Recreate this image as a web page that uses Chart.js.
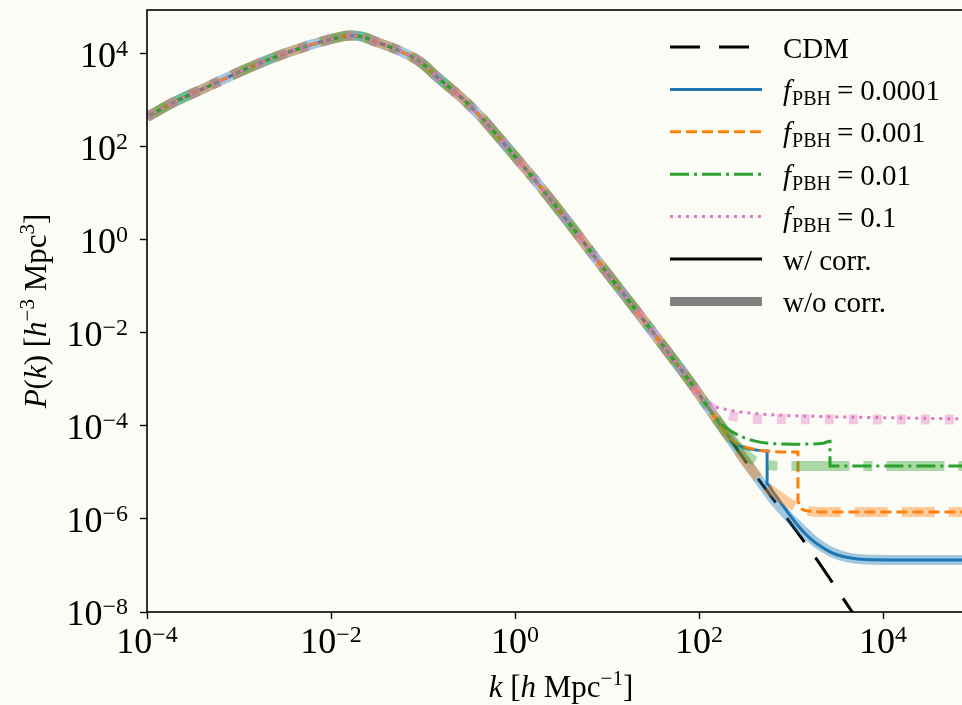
<!DOCTYPE html>
<html>
<head>
<meta charset="utf-8">
<script src="https://cdn.jsdelivr.net/npm/chart.js@4.4.1/dist/chart.umd.min.js"></script>
<style>
  html, body { margin: 0; padding: 0; background: #fcfcf7; overflow: hidden; }
  canvas { display: block; }
</style>
</head>
<body>
<canvas id="pk" width="990" height="705"></canvas>
<script>
// CDM power spectrum (k in h/Mpc, P in (Mpc/h)^3)
const cdmK = [1e-4, 2e-4, 4.5e-4, 1e-3, 2.3e-3, 5.5e-3, 1.26e-2, 1.65e-2, 2.3e-2, 2.9e-2, 5.6e-2, 9.3e-2,
              0.151, 0.272, 0.447, 0.69, 1.12, 1.74, 3.67, 8.3, 19.1, 44.7, 87, 126, 200, 316, 550,
              1000, 1700, 3470, 5620];
const cdmP = [442, 933, 1950, 4070, 8130, 14800, 23200, 24800, 22900, 19000, 11600, 6760,
              2880, 1070, 400, 148, 47.9, 17.0, 2.63, 0.316, 0.038, 4.17e-3, 7.1e-4, 2.5e-4, 6.8e-5, 1.82e-5, 4.0e-6,
              7.9e-7, 1.86e-7, 2.34e-8, 5.6e-9];

// where each f_PBH curve leaves CDM (w = with correction, wo = without)
const f4wK = [251, 316, 398, 550, 550, 631, 794, 1000, 1260, 1580, 2000, 2510, 3160, 4470, 6310, 15800, 1e5];
const f4wP = [4.17e-5, 3.39e-5, 3.09e-5, 2.88e-5, 5.62e-6, 3.98e-6, 2.09e-6, 1.12e-6, 6.3e-7, 3.98e-7, 2.75e-7,
              2.09e-7, 1.70e-7, 1.45e-7, 1.35e-7, 1.32e-7, 1.32e-7];
const f4woK = [708, 891, 1120, 1410, 1780, 2240, 2820, 3980, 6310, 15800, 1e5];
const f4woP = [2.09e-6, 1.26e-6, 7.94e-7, 5.13e-7, 3.39e-7, 2.45e-7, 1.91e-7, 1.51e-7, 1.35e-7, 1.32e-7, 1.32e-7];

const f3wK = [251, 316, 398, 631, 1190, 1190, 1260, 1580, 2240, 1e5];
const f3wP = [4.37e-5, 3.55e-5, 3.16e-5, 2.82e-5, 2.75e-5, 2.4e-6, 1.74e-6, 1.48e-6, 1.41e-6, 1.41e-6];
const f3woK = [398, 562, 708, 891, 1120, 1410, 2000, 1e5];
const f3woP = [1.0e-5, 4.68e-6, 3.31e-6, 2.40e-6, 1.82e-6, 1.55e-6, 1.41e-6, 1.41e-6];

const f2wK = [158, 200, 282, 398, 631, 1260, 2240, 2655, 2655, 1e5];
const f2wP = [1.38e-4, 8.91e-5, 6.03e-5, 4.79e-5, 4.17e-5, 4.07e-5, 4.27e-5, 4.68e-5, 1.38e-5, 1.38e-5];
const f2woK = [158, 200, 282, 355, 447, 631, 1000, 1e5];
const f2woP = [1.32e-4, 7.08e-5, 3.16e-5, 2.09e-5, 1.62e-5, 1.41e-5, 1.38e-5, 1.38e-5];

const f1wK = [107, 132, 182, 282, 631, 1580, 10000, 1e5];
const f1wP = [3.98e-4, 2.82e-4, 2.34e-4, 2.0e-4, 1.74e-4, 1.62e-4, 1.51e-4, 1.41e-4];
const f1woK = [107, 132, 166, 224, 316, 631, 1e5];
const f1woP = [3.8e-4, 2.63e-4, 2.0e-4, 1.66e-4, 1.48e-4, 1.41e-4, 1.38e-4];

const fLabels = ['0.0001', '0.001', '0.01', '0.1'];
const xTicks = [1e-4, 1e-2, 1, 1e2, 1e4];
const xTickExp = ['\u22124', '\u22122', '0', '2', '4'];
const yTicks = [1e-8, 1e-6, 1e-4, 1e-2, 1, 1e2, 1e4];
const yTickExp = ['\u22128', '\u22126', '\u22124', '\u22122', '0', '2', '4'];

const SERIF = '"Liberation Serif", "Times New Roman", serif';
const colors = ['#1f77b4', '#ff7f0e', '#2ca02c', '#e377c2'];
const pale = ['rgba(31,119,180,0.4)', 'rgba(255,127,14,0.4)', 'rgba(44,160,44,0.4)', 'rgba(227,119,194,0.4)'];
const thinDash = [[], [11, 5], [19, 5, 3, 5], [3, 5]];
const thickDash = [[], [33, 14], [58, 14, 9, 14], [9, 15]];
const cdmDash = [30, 19];

// CDM points below the tail start, then the tail itself
function withTail(tk, tp) {
    const pts = [];
    cdmK.forEach((k, i) => { if (k < tk[0]) pts.push({ x: k, y: cdmP[i] }); });
    tk.forEach((k, i) => pts.push({ x: k, y: tp[i] }));
    return pts;
}

function line(pts, color, width, dash) {
    return {
        data: pts, borderColor: color, borderWidth: width, borderDash: dash,
        pointRadius: 0, fill: false, cubicInterpolationMode: 'monotone', clip: 0
    };
}

const tails = [
    [f4wK, f4wP, f4woK, f4woP],
    [f3wK, f3wP, f3woK, f3woP],
    [f2wK, f2wP, f2woK, f2woP],
    [f1wK, f1wP, f1woK, f1woP]
];

// Chart.js paints dataset 0 last, so list top layer first
const datasets = [];
for (let i = 3; i >= 0; i--) {
    const t = tails[i];
    datasets.push(line(withTail(t[2], t[3]), pale[i], 10, thickDash[i]));
    datasets.push(line(withTail(t[0], t[1]), colors[i], 3, thinDash[i]));
}
datasets.push(line(cdmK.map((k, i) => ({ x: k, y: cdmP[i] })), '#000', 3, cdmDash));

function drawRuns(ctx, parts, x, y) {
    parts.forEach(p => {
        ctx.font = p[1];
        ctx.fillText(p[0], x, y + (p[2] || 0));
        x += ctx.measureText(p[0]).width + (p[3] || 0);
    });
    return x;
}
function runsWidth(ctx, parts) {
    let w = 0;
    parts.forEach(p => { ctx.font = p[1]; w += ctx.measureText(p[0]).width + (p[3] || 0); });
    return w;
}

const decor = {
    id: 'decor',
    beforeDraw(chart) {
        const ctx = chart.ctx;
        ctx.save();
        ctx.fillStyle = '#fcfcf7';
        ctx.fillRect(0, 0, chart.width, chart.height);
        ctx.restore();
    },
    afterDraw(chart) {
        const { ctx, chartArea: a } = chart;
        const xs = chart.scales.x, ys = chart.scales.y;
        ctx.save();
        ctx.strokeStyle = '#000';
        ctx.lineWidth = 1.6;
        ctx.setLineDash([]);
        ctx.strokeRect(a.left, a.top, a.right - a.left, a.bottom - a.top);

        ctx.fillStyle = '#000';
        ctx.textBaseline = 'alphabetic';
        ctx.textAlign = 'left';
        const big = '36px ' + SERIF, sup = '24px ' + SERIF;

        xTicks.forEach((v, i) => {
            const parts = [['10', big], [xTickExp[i], sup, -11]];
            const px = xs.getPixelForValue(v);
            drawRuns(ctx, parts, px - runsWidth(ctx, parts) / 2, a.bottom + 41);
        });
        yTicks.forEach((v, i) => {
            const parts = [['10', big], [yTickExp[i], sup, -11]];
            const py = ys.getPixelForValue(v);
            drawRuns(ctx, parts, 128 - runsWidth(ctx, parts), py + 13);
        });

        // axis titles
        const lab = '31px ' + SERIF, labI = 'italic 31px ' + SERIF, labS = '21px ' + SERIF;
        const xl = [['k', labI], [' [', lab], ['h', labI], [' Mpc', lab], ['\u22121', labS, -12], [']', lab]];
        drawRuns(ctx, xl, (a.left + a.right) / 2 - runsWidth(ctx, xl) / 2, 697);

        const yl = [['P', labI], ['(', lab], ['k', labI], [')', lab], [' [', lab], ['h', labI],
                    ['\u22123', labS, -12], [' Mpc', lab], ['3', labS, -12], [']', lab]];
        ctx.save();
        ctx.translate(46, (a.top + a.bottom) / 2);
        ctx.rotate(-Math.PI / 2);
        drawRuns(ctx, yl, -runsWidth(ctx, yl) / 2, 0);
        ctx.restore();

        // legend
        const lf = '29px ' + SERIF, lfI = 'italic 29px ' + SERIF, lfS = '20px ' + SERIF;
        const rows = [
            { color: '#000', width: 3, dash: cdmDash, text: [['CDM', lf]] }
        ];
        fLabels.forEach((f, i) => rows.push({
            color: colors[i], width: 3, dash: thinDash[i],
            text: [['f', lfI, 0, 1], ['PBH', lfS, 5, 6], ['=', lf, 0, 7], [f, lf]]
        }));
        rows.push({ color: '#000', width: 3, dash: [], text: [['w/ corr.', lf]] });
        rows.push({ color: '#808080', width: 9, dash: [], text: [['w/o corr.', lf]] });

        rows.forEach((r, i) => {
            const y = 47 + i * 42.4;
            ctx.strokeStyle = r.color;
            ctx.lineWidth = r.width;
            ctx.lineCap = 'butt';
            ctx.setLineDash(r.dash);
            ctx.beginPath();
            ctx.moveTo(670, y);
            ctx.lineTo(762, y);
            ctx.stroke();
            drawRuns(ctx, r.text, 783, y + 10.5);
        });
        ctx.restore();
    }
};

new Chart(document.getElementById('pk'), {
    type: 'line',
    data: { datasets: datasets },
    options: {
        responsive: false,
        devicePixelRatio: 1,
        animation: false,
        events: [],
        layout: { padding: { left: 0, top: 10, right: 15, bottom: 0 } },
        plugins: { legend: { display: false }, tooltip: { enabled: false } },
        scales: {
            x: {
                type: 'logarithmic', min: 1e-4, max: 1e5,
                afterBuildTicks: s => { s.ticks = xTicks.map(v => ({ value: v })); },
                afterFit: s => { s.height = 93; },
                ticks: { display: false },
                border: { display: false },
                grid: { drawOnChartArea: false, drawTicks: true, tickLength: 7, tickColor: '#000', tickWidth: 1.4 }
            },
            y: {
                type: 'logarithmic', min: 1e-8, max: 8.8e4,
                afterBuildTicks: s => { s.ticks = yTicks.map(v => ({ value: v })); },
                afterFit: s => { s.width = 147; },
                ticks: { display: false },
                border: { display: false },
                grid: { drawOnChartArea: false, drawTicks: true, tickLength: 7, tickColor: '#000', tickWidth: 1.4 }
            }
        }
    },
    plugins: [decor]
});
</script>
</body>
</html>
